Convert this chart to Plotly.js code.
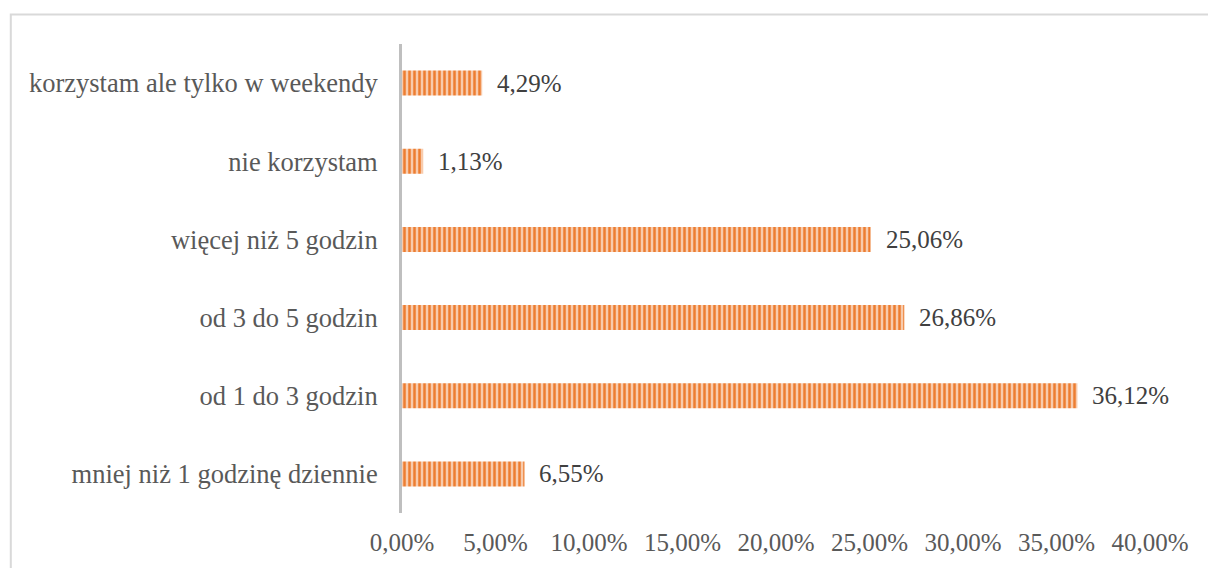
<!DOCTYPE html>
<html>
<head>
<meta charset="utf-8">
<script src="https://cdn.plot.ly/plotly-3.0.1.min.js"></script>
<style>
html,body{margin:0;padding:0;background:#fff;}
#chart{width:1208px;height:568px;}
</style>
</head>
<body>
<div id="chart"></div>
<script>
const categories = [
  "mniej niż 1 godzinę dziennie",
  "od 1 do 3 godzin",
  "od 3 do 5 godzin",
  "więcej niż 5 godzin",
  "nie korzystam",
  "korzystam ale tylko w weekendy"
];
const values = [6.55, 36.12, 26.86, 25.06, 1.13, 4.29];
const xTickValues = [0, 5, 10, 15, 20, 25, 30, 35, 40];
const xTickLabels = ["0,00%", "5,00%", "10,00%", "15,00%", "20,00%", "25,00%", "30,00%", "35,00%", "40,00%"];

const fontFamily = '"Liberation Serif", "Times New Roman", serif';
const fs = 25;

const trace = {
  type: 'bar',
  orientation: 'h',
  y: categories,
  x: values,
  marker: {
    color: '#F8CBAD',
    line: {width: 0},
    pattern: {shape: '|', fgcolor: '#ED7D31', bgcolor: '#F8CBAD', size: 5, solidity: 0.5, fillmode: 'replace'}
  },
  hoverinfo: 'skip'
};

const annotations = categories.map((c, i) => ({
  x: values[i], y: c, xref: 'x', yref: 'y',
  text: values[i].toFixed(2).replace('.', ',') + '%',
  showarrow: false, xanchor: 'left', xshift: 13,
  font: {family: fontFamily, size: fs, color: '#404040'}
}));

const layout = {
  width: 1208, height: 568,
  margin: {l: 402, r: 58, t: 44, b: 55},
  paper_bgcolor: '#ffffff', plot_bgcolor: '#ffffff',
  separators: ', ',
  showlegend: false,
  bargap: 0.68,
  font: {family: fontFamily, size: fs, color: '#595959'},
  xaxis: {
    range: [0, 40], tickvals: xTickValues, ticktext: xTickLabels,
    showgrid: false, zeroline: false, showline: false, ticks: '',
    ticklabelstandoff: 12, fixedrange: true,
    tickfont: {family: fontFamily, size: fs, color: '#595959'}
  },
  yaxis: {
    type: 'category', categoryorder: 'array', categoryarray: categories,
    range: [-0.5, 5.5],
    showgrid: false, zeroline: false, showline: true, linecolor: '#bfbfbf', linewidth: 3,
    ticks: '', ticklabelstandoff: 16, fixedrange: true,
    tickfont: {family: fontFamily, size: 26.5, color: '#595959'}
  },
  annotations: annotations,
  shapes: [{
    type: 'rect', xref: 'paper', yref: 'paper',
    x0: -0.523, x1: 1.5, y0: -0.5, y1: 1.063,
    line: {color: '#d9d9d9', width: 2}, fillcolor: 'rgba(0,0,0,0)', layer: 'below'
  }]
};

Plotly.newPlot('chart', [trace], layout, {displayModeBar: false, staticPlot: true});
</script>
</body>
</html>
